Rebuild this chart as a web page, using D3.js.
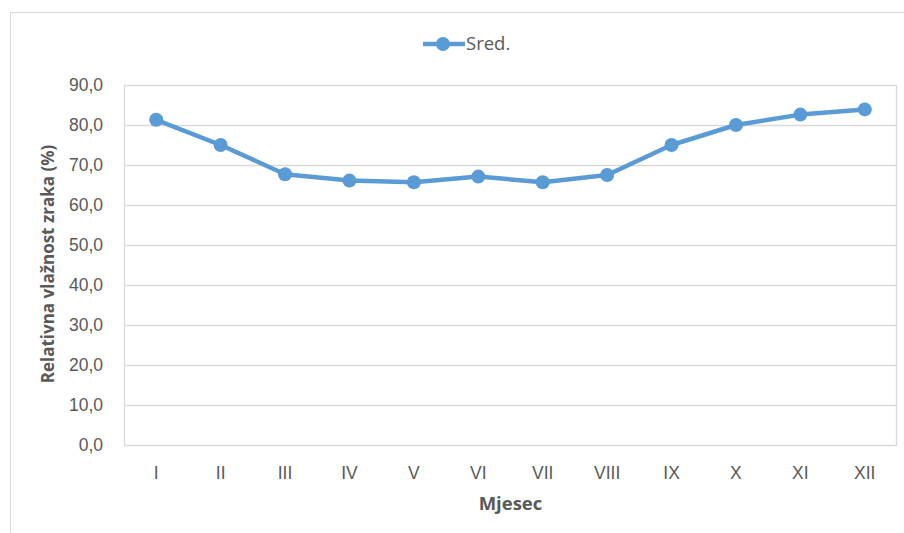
<!DOCTYPE html>
<html>
<head>
<meta charset="utf-8">
<script src="https://cdn.jsdelivr.net/npm/d3@7"></script>
<style>
  html, body { margin: 0; padding: 0; background: #fff; }
  svg { display: block; font-family: "Open Sans", "Liberation Sans", sans-serif; }
</style>
</head>
<body>
<svg id="chart" width="904" height="533"></svg>
<script>
const months = ["I","II","III","IV","V","VI","VII","VIII","IX","X","XI","XII"];
const sred = [81.3, 75.0, 67.7, 66.1, 65.7, 67.1, 65.7, 67.5, 75.0, 80.0, 82.6, 83.9];
const yTicks = [0, 10, 20, 30, 40, 50, 60, 70, 80, 90];
const seriesName = "Sred.";
const xTitle = "Mjesec";
const yTitle = "Relativna vlažnost zraka (%)";

const svg = d3.select("#chart");
const W = 904, H = 533;
const m = { left: 124, right: 7, top: 85, bottom: 88 };
const pw = W - m.left - m.right, ph = H - m.top - m.bottom;
const blue = "#5B9BD5", grid = "#D9D9D9", txt = "#595959";

// outer frame
svg.append("rect").attr("x", 10.5).attr("y", 12.5).attr("width", 1000).attr("height", 1000)
  .attr("fill", "none").attr("stroke", grid).attr("stroke-width", 1);

const x = d3.scaleBand().domain(months).range([0, pw]);
const y = d3.scaleLinear().domain([0, 90]).range([ph, 0]);

const g = svg.append("g").attr("transform", `translate(${m.left},${m.top})`);

// gridlines
g.append("g").selectAll("line").data(yTicks).join("line")
  .attr("x1", 0).attr("x2", pw)
  .attr("y1", d => Math.round(y(d)) + 0.5).attr("y2", d => Math.round(y(d)) + 0.5)
  .attr("stroke", grid).attr("stroke-width", 1.3);
// plot area sides
g.append("line").attr("x1", 0.5).attr("x2", 0.5).attr("y1", 0).attr("y2", ph).attr("stroke", grid).attr("stroke-width", 1.3);
g.append("line").attr("x1", pw - 0.5).attr("x2", pw - 0.5).attr("y1", 0).attr("y2", ph).attr("stroke", grid).attr("stroke-width", 1.3);

// y axis
const yAxis = d3.axisLeft(y).tickValues(yTicks).tickSize(0).tickPadding(21)
  .tickFormat(d => d3.format(".1f")(d).replace(".", ","));
const ya = g.append("g").call(yAxis);
ya.select(".domain").remove();
ya.selectAll("text").attr("fill", txt).style("font-size", "17.5px");

// x axis
const xAxis = d3.axisBottom(x).tickSize(0).tickPadding(22);
const xa = g.append("g").attr("transform", `translate(0,${ph})`).call(xAxis);
xa.select(".domain").remove();
xa.selectAll("text").attr("fill", txt).style("font-size", "17.5px");

// line
const line = d3.line().x((d, i) => x(months[i]) + x.bandwidth() / 2).y(d => y(d));
g.append("path").datum(sred).attr("d", line).attr("fill", "none")
  .attr("stroke", blue).attr("stroke-width", 4.5).attr("stroke-linejoin", "round");
g.append("g").selectAll("circle").data(sred).join("circle")
  .attr("cx", (d, i) => x(months[i]) + x.bandwidth() / 2).attr("cy", d => y(d))
  .attr("r", 7).attr("fill", blue);

// axis titles
svg.append("text").attr("x", m.left + pw / 2).attr("y", 510).attr("text-anchor", "middle")
  .attr("fill", txt).style("font-size", "18.5px").style("font-weight", "bold").text(xTitle);
svg.append("text").attr("transform", `translate(54,${m.top + ph / 2 - 1}) rotate(-90)`)
  .attr("text-anchor", "middle").attr("fill", txt)
  .style("font-size", "17px").style("font-weight", "bold").text(yTitle);

// legend
const lg = svg.append("g").attr("transform", "translate(423,44)");
lg.append("line").attr("x1", 0).attr("x2", 42).attr("y1", 0).attr("y2", 0)
  .attr("stroke", blue).attr("stroke-width", 4.5);
lg.append("circle").attr("cx", 20).attr("cy", 0).attr("r", 7).attr("fill", blue);
lg.append("text").attr("x", 43).attr("y", 0).attr("dy", "0.35em").attr("fill", txt)
  .style("font-size", "18.5px").text(seriesName);
</script>
</body>
</html>
